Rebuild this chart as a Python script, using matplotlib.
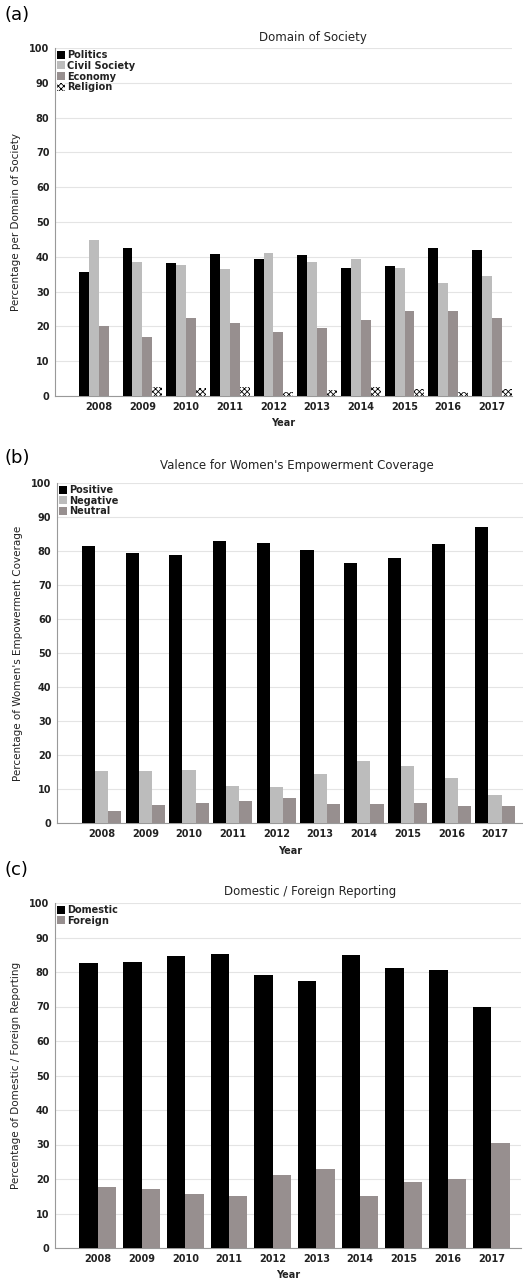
import matplotlib
matplotlib.use('Agg')
import matplotlib.pyplot as plt
import numpy as np

years = ['2008', '2009', '2010', '2011', '2012', '2013', '2014', '2015', '2016', '2017']

# (a) domain of society
politics = [35.5, 42.6, 38.2, 40.7, 39.5, 40.6, 36.8, 37.3, 42.4, 42.0]
civil_society = [44.9, 38.6, 37.7, 36.4, 41.0, 38.6, 39.3, 36.9, 32.6, 34.4]
economy = [20.1, 16.9, 22.3, 20.9, 18.5, 19.5, 21.8, 24.4, 24.5, 22.4]
religion = [0.0, 2.7, 2.4, 2.5, 1.2, 1.7, 2.7, 1.9, 1.1, 2.0]

# (b) valence
positive = [81.4, 79.5, 78.8, 83.0, 82.5, 80.4, 76.6, 78.0, 82.2, 87.2]
negative = [15.3, 15.3, 15.7, 10.9, 10.6, 14.5, 18.3, 16.7, 13.3, 8.3]
neutral = [3.6, 5.3, 5.9, 6.4, 7.3, 5.5, 5.5, 5.8, 4.9, 4.9]

# (c) domestic / foreign
domestic = [82.6, 83.0, 84.6, 85.2, 79.0, 77.3, 85.0, 81.3, 80.5, 70.0]
foreign = [17.6, 17.2, 15.7, 15.0, 21.2, 23.0, 15.2, 19.1, 19.9, 30.3]

BLACK = '#000000'
LIGHT = '#bcbcbc'
DARK = '#978f8f'
TXT = '#222222'

plt.rcParams['font.family'] = 'DejaVu Sans'
plt.rcParams['hatch.linewidth'] = 0.6

W, H = 523, 1285
fig = plt.figure(figsize=(W / 100, H / 100), dpi=100)


def px_axes(left, top, right, bottom):
    return fig.add_axes([left / W, 1 - bottom / H, (right - left) / W, (bottom - top) / H])


def draw(ax, series, labels, colors, hatches, group_w, xlim, ylabel):
    x = np.arange(len(years))
    n = len(series)
    bw = group_w / n
    for i, (vals, lab, col, hat) in enumerate(zip(series, labels, colors, hatches)):
        off = (i - (n - 1) / 2) * bw
        if hat:
            ax.bar(x + off, vals, bw, facecolor='white', edgecolor='black',
                   hatch=hat, linewidth=0, label=lab, zorder=3)
        else:
            ax.bar(x + off, vals, bw, color=col, linewidth=0, label=lab, zorder=3)
    ax.set_xlim(*xlim)
    ax.set_ylim(0, 100)
    ax.set_yticks(range(0, 101, 10))
    ax.set_xticks(x)
    ax.set_xticklabels(years)
    ax.yaxis.grid(True, color='#e4e4e4', linewidth=0.8, zorder=0)
    ax.set_axisbelow(True)
    for s in ['top', 'right']:
        ax.spines[s].set_visible(False)
    for s in ['left', 'bottom']:
        ax.spines[s].set_color('#999999')
        ax.spines[s].set_linewidth(0.8)
    ax.tick_params(length=0, labelsize=7, colors=TXT, pad=4)
    for t in ax.get_xticklabels() + ax.get_yticklabels():
        t.set_fontweight('bold')
    ax.set_xlabel('Year', fontsize=7, color=TXT, fontweight='bold', labelpad=5)
    ax.set_ylabel(ylabel, fontsize=7.5, color=TXT, labelpad=6)
    leg = ax.legend(loc='upper left', frameon=False, fontsize=7,
                    handlelength=0.8, handleheight=0.9, handletextpad=0.25,
                    labelspacing=0.08, borderaxespad=0.0, borderpad=0.2)
    for t in leg.get_texts():
        t.set_fontweight('bold')
        t.set_color(TXT)


ax1 = px_axes(55, 48, 512, 396)
draw(ax1, [politics, civil_society, economy, religion],
     ['Politics', 'Civil Society', 'Economy', 'Religion'],
     [BLACK, LIGHT, DARK, None], [None, None, None, 'xxxxxx'],
     0.91, (-1.0, 9.46), 'Percentage per Domain of Society')

ax2 = px_axes(57, 483, 523, 823)
draw(ax2, [positive, negative, neutral],
     ['Positive', 'Negative', 'Neutral'],
     [BLACK, LIGHT, DARK], [None, None, None],
     0.9, (-1.02, 9.64), "Percentage of Women's Empowerment Coverage")

ax3 = px_axes(55, 903, 521, 1248)
draw(ax3, [domestic, foreign],
     ['Domestic', 'Foreign'],
     [BLACK, DARK], [None, None],
     0.84, (-0.98, 9.68), 'Percentage of Domestic / Foreign Reporting')

fig.text(313 / W, 1 - 37 / H, 'Domain of Society', ha='center', va='center', fontsize=8.5, color=TXT)
fig.text(297 / W, 1 - 465 / H, "Valence for Women's Empowerment Coverage", ha='center', va='center', fontsize=8.5, color=TXT)
fig.text(310 / W, 1 - 891 / H, 'Domestic / Foreign Reporting', ha='center', va='center', fontsize=8.5, color=TXT)

fig.text(5 / W, 1 - 15 / H, '(a)', ha='left', va='center', fontsize=13)
fig.text(5 / W, 1 - 458 / H, '(b)', ha='left', va='center', fontsize=13)
fig.text(5 / W, 1 - 870 / H, '(c)', ha='left', va='center', fontsize=13)

fig.savefig('out.png', dpi=100, facecolor='white')
